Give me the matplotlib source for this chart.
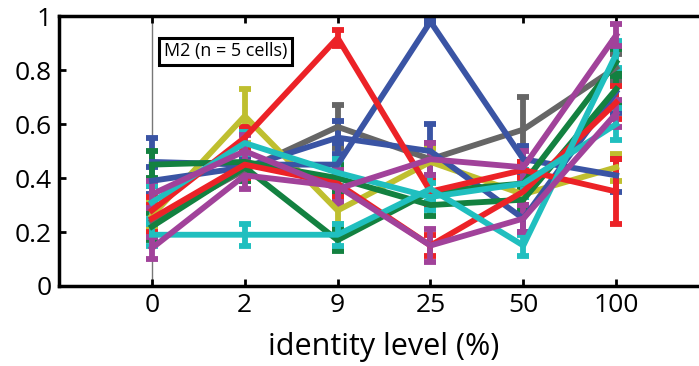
import matplotlib
matplotlib.use("Agg")
import matplotlib.pyplot as plt

plt.rcParams['font.family'] = ['Open Sans', 'DejaVu Sans']

# categories on the x axis
levels = ['0', '2', '9', '25', '50', '100']

# mean values per cell / stimulus set
blue_a = [0.46, 0.45, 0.45, 0.98, 0.47, 0.41]
blue_b = [0.39, 0.44, 0.55, 0.50, 0.25, 0.72]
red_a = [0.28, 0.55, 0.92, 0.35, 0.43, 0.35]
red_b = [0.25, 0.45, 0.38, 0.15, 0.35, 0.68]
yellow_a = [0.26, 0.63, 0.28, 0.46, 0.34, 0.44]
gray_a = [0.24, 0.43, 0.59, 0.47, 0.58, 0.81]
green_a = [0.45, 0.46, 0.40, 0.30, 0.32, 0.73]
green_b = [0.22, 0.44, 0.17, 0.35, 0.38, 0.83]
cyan_a = [0.19, 0.19, 0.19, 0.36, 0.15, 0.86]
cyan_b = [0.31, 0.53, 0.42, 0.33, 0.38, 0.60]
mag_a = [0.14, 0.41, 0.37, 0.15, 0.25, 0.64]
mag_b = [0.34, 0.50, 0.36, 0.47, 0.44, 0.93]

# error bar half-lengths
blue_a_err = [0.09, 0.05, 0.08, 0.01, 0.05, 0.06]
blue_b_err = [0.05, 0.04, 0.06, 0.10, 0.05, 0.08]
red_a_err = [0.05, 0.04, 0.03, 0.05, 0.03, 0.12]
red_b_err = [0.05, 0.05, 0.05, 0.04, 0.05, 0.06]
yellow_a_err = [0.05, 0.10, 0.05, 0.05, 0.04, 0.05]
gray_a_err = [0.04, 0.04, 0.08, 0.06, 0.12, 0.05]
green_a_err = [0.05, 0.04, 0.05, 0.04, 0.04, 0.06]
green_b_err = [0.05, 0.05, 0.04, 0.04, 0.05, 0.05]
cyan_a_err = [0.04, 0.04, 0.04, 0.05, 0.04, 0.05]
cyan_b_err = [0.06, 0.04, 0.05, 0.05, 0.05, 0.06]
mag_a_err = [0.04, 0.05, 0.06, 0.06, 0.05, 0.05]
mag_b_err = [0.05, 0.06, 0.06, 0.06, 0.06, 0.04]

series = [
    (gray_a, gray_a_err, '#666666'),
    (yellow_a, yellow_a_err, '#bfbf2f'),
    (blue_a, blue_a_err, '#3a54a4'),
    (blue_b, blue_b_err, '#3a54a4'),
    (green_a, green_a_err, '#138140'),
    (green_b, green_b_err, '#138140'),
    (red_a, red_a_err, '#ec2227'),
    (red_b, red_b_err, '#ec2227'),
    (cyan_a, cyan_a_err, '#20bfbf'),
    (cyan_b, cyan_b_err, '#20bfbf'),
    (mag_a, mag_a_err, '#a1429a'),
    (mag_b, mag_b_err, '#a1429a'),
]

fig = plt.figure(figsize=(6.99, 3.66), dpi=100)
ax = fig.add_axes([0.0844, 0.2186, 0.93, 0.737])

x = list(range(1, len(levels) + 1))
ax.axvline(1, color='#777777', lw=1, zorder=0)

for vals, err, col in series:
    ax.errorbar(x, vals, yerr=err, color=col, lw=4.2, elinewidth=4.2,
                capsize=4.5, capthick=4.2)

ax.text(1.13, 0.87, 'M2 (n = 5 cells)', fontsize=13, va='center', ha='left',
        bbox=dict(boxstyle='square,pad=0.25', fc='white', ec='black', lw=2.2))

ax.set_xlim(0, 7)
ax.set_ylim(0, 1)
ax.set_xticks(x)
ax.set_xticklabels(levels)
ax.set_yticks([0, 0.2, 0.4, 0.6, 0.8, 1])
ax.set_yticklabels(['0', '0.2', '0.4', '0.6', '0.8', '1'])
ax.tick_params(direction='in', length=5, width=2, labelsize=19, top=True, pad=5)
for s in ax.spines.values():
    s.set_linewidth(2.5)
ax.set_xlabel('identity level (%)', fontsize=22, labelpad=10)

fig.savefig('out.png', dpi=100)
